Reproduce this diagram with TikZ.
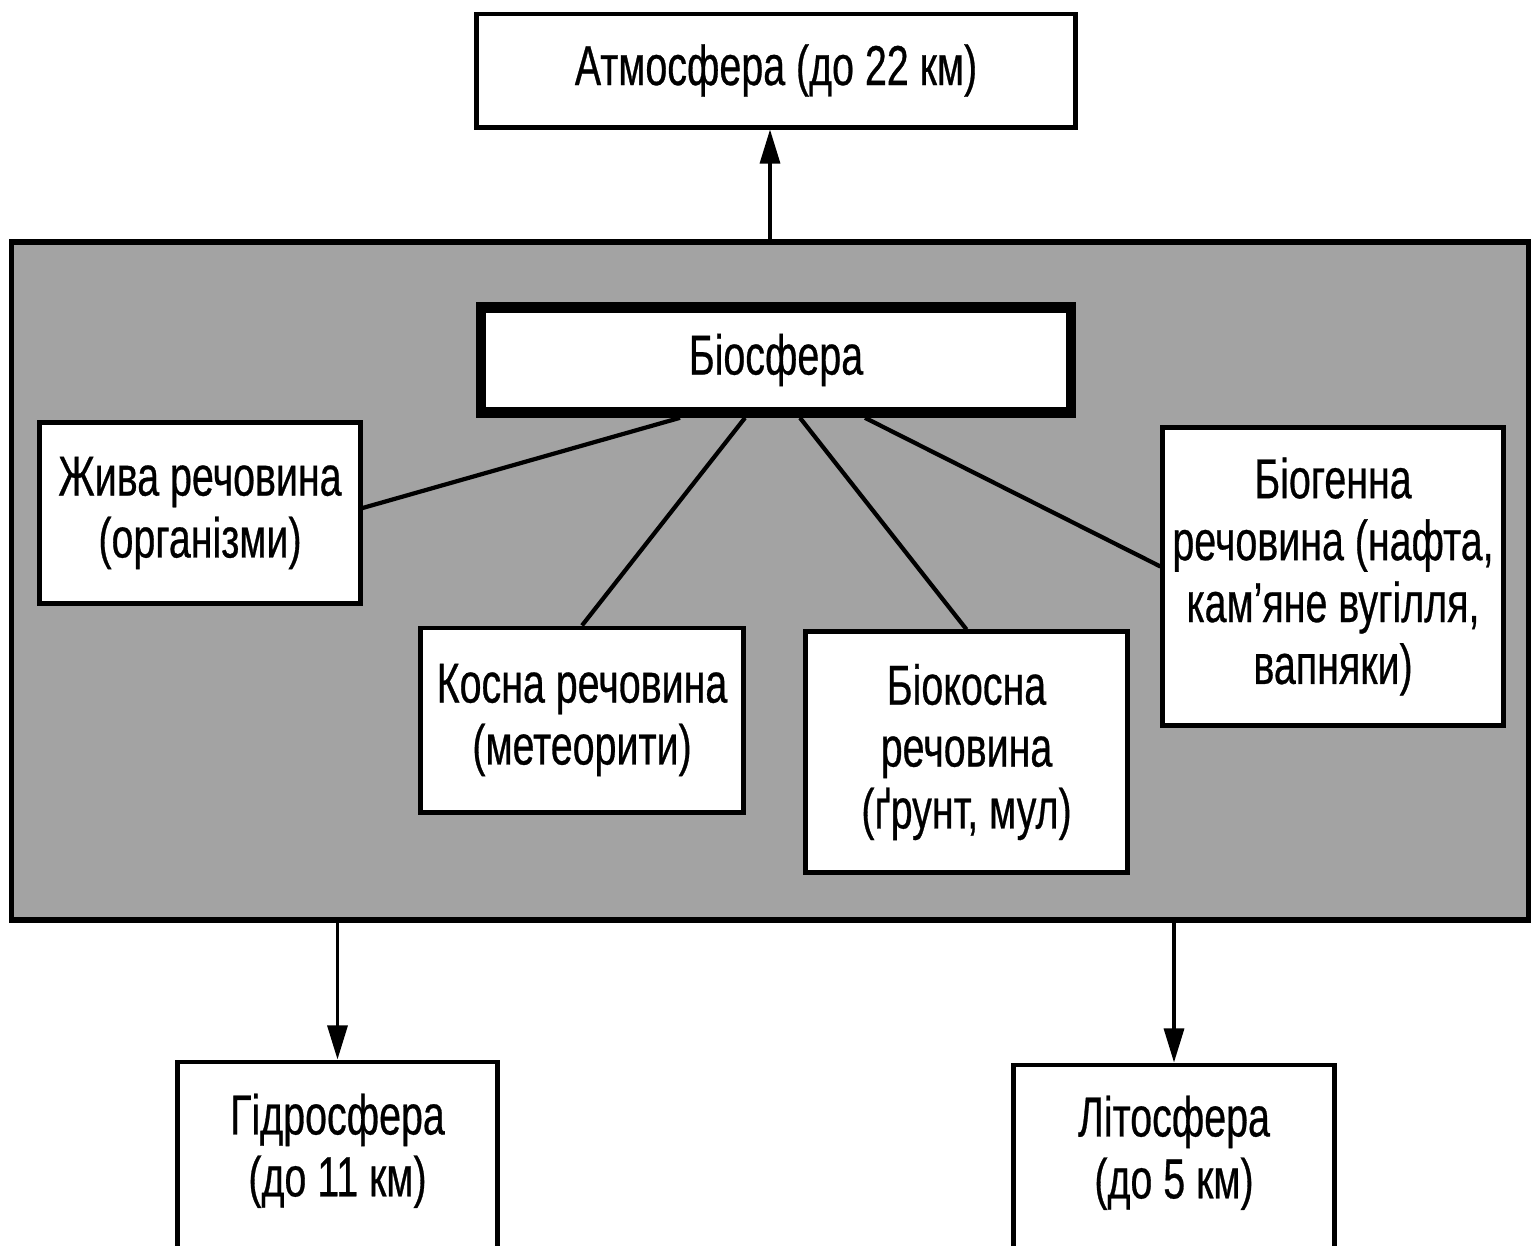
\documentclass[tikz,border=0pt]{standalone}
\usepackage{fontspec}
\setmainfont{Liberation Sans}[FakeStretch=0.70,FakeBold=0.5]
\usetikzlibrary{arrows.meta,calc}
\definecolor{bgray}{gray}{0.64}
\begin{document}
\begin{tikzpicture}[x=0.01cm,y=-0.01cm,
  box/.style={draw=black,line width=1.4pt,fill=white,inner sep=0pt,align=center,
    font=\fontsize{16}{17.6}\selectfont},
  conn/.style={line width=1.2pt},
  arr/.style={line width=0.9pt,-{Triangle[length=0.34cm,width=0.2cm]}}]
\useasboundingbox (0,0) rectangle (1531,1245);
\fill[white] (0,0) rectangle (1531,1245);
% big grey area
\node[draw=black,line width=1.6pt,fill=bgray,minimum width=15.16cm,minimum height=6.78cm,inner sep=0pt] (big) at (770,581) {};
% boxes
\node[box,minimum width=5.98cm,minimum height=1.13cm] (atm) at (776,70.5) {Атмосфера (до 22 км)};
\node[box,line width=3pt,minimum width=5.9cm,minimum height=1.05cm] (bio) at (776,360) {Біосфера};
\node[box,minimum width=3.2cm,minimum height=1.8cm] (zhyva) at (200,513) {Жива речовина\\(організми)};
\node[box,minimum width=3.22cm,minimum height=1.84cm] (kosna) at (582,720) {Косна речовина\\(метеорити)};
\node[box,minimum width=3.21cm,minimum height=2.4cm] (biokosna) at (966.5,752) {Біокосна\\речовина\\(ґрунт, мул)};
\node[box,minimum width=3.4cm,minimum height=2.97cm] (biogenna) at (1333,576.5) {Біогенна\\речовина (нафта,\\кам’яне вугілля,\\вапняки)};
\node[box,minimum width=3.19cm,minimum height=1.96cm,text depth=0.3cm] (hidro) at (337.5,1160) {Гідросфера\\(до 11 км)};
\node[box,minimum width=3.2cm,minimum height=1.94cm,text depth=0.3cm] (lito) at (1174,1162) {Літосфера\\(до 5 км)};
% connectors from biosphere
\coordinate (b1) at ($(bio.south)+(-96,0)$);
\coordinate (b2) at ($(bio.south)+(-31,0)$);
\coordinate (b3) at ($(bio.south)+(24,0)$);
\coordinate (b4) at ($(bio.south)+(89,0)$);
\draw[conn] (b1) -- ($(zhyva.east)+(0,-5)$);
\draw[conn] (b2) -- (kosna.north);
\draw[conn] (b3) -- (biokosna.north);
\draw[conn] (b4) -- ($(biogenna.west)+(0,-10)$);
% arrows
\draw[arr] (big.north) -- (big.north |- atm.south);
\draw[arr] (hidro.north |- big.south) -- (hidro.north);
\draw[arr] (lito.north |- big.south) -- (lito.north);
\end{tikzpicture}
\end{document}
